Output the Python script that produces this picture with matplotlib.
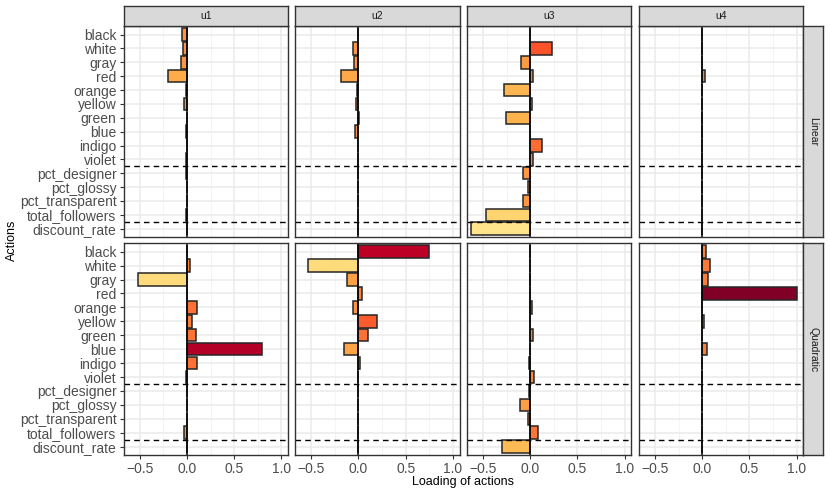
import matplotlib
matplotlib.use("Agg")
import matplotlib.pyplot as plt
import numpy as np
from matplotlib.colors import Normalize

plt.rcParams['font.family'] = ['Liberation Sans', 'DejaVu Sans']

actions = ["black", "white", "gray", "red", "orange", "yellow", "green", "blue",
           "indigo", "violet", "pct_designer", "pct_glossy", "pct_transparent",
           "total_followers", "discount_rate"]
components = ["u1", "u2", "u3", "u4"]
models = ["Linear", "Quadratic"]

# Linear loadings
lin_u1 = [-0.05, -0.045, -0.067, -0.20, -0.01, -0.035, 0.005, -0.005, 0.005, -0.005,
          -0.005, -0.003, -0.003, -0.01, 0.0]
lin_u2 = [0.0, -0.056, -0.042, -0.187, -0.018, -0.021, 0.005, -0.032, 0.0, 0.0,
          0.0, -0.005, 0.0, -0.005, 0.0]
lin_u3 = [0.0, 0.23, -0.099, 0.03, -0.278, 0.02, -0.254, -0.005, 0.127, 0.035,
          -0.074, -0.028, -0.077, -0.465, -0.63]
lin_u4 = [0.0, 0.0, 0.0, 0.025, 0.0, 0.0, 0.0, 0.0, 0.0, 0.0,
          0.0, 0.0, 0.0, 0.0, 0.0]
# Quadratic loadings
quad_u1 = [0.005, 0.028, -0.523, 0.0, 0.102, 0.057, 0.099, 0.795, 0.106, -0.014,
           0.0, -0.003, 0.0, -0.028, 0.0]
quad_u2 = [0.745, -0.535, -0.126, 0.035, -0.059, 0.2, 0.105, -0.15, 0.014, -0.005,
           0.0, 0.0, 0.0, -0.005, 0.0]
quad_u3 = [-0.005, 0.0, 0.0, 0.0, 0.02, 0.0, 0.025, 0.0, -0.01, 0.038,
           -0.014, -0.108, -0.021, 0.087, -0.297]
quad_u4 = [0.042, 0.083, 0.065, 1.0, 0.0, 0.02, 0.0, 0.05, 0.0, 0.0,
           0.0, 0.0, 0.0, 0.0, 0.0]

data = {
    "Linear": [lin_u1, lin_u2, lin_u3, lin_u4],
    "Quadratic": [quad_u1, quad_u2, quad_u3, quad_u4],
}

xticks = [-0.5, 0.0, 0.5, 1.0]
xtick_labels = ["\u22120.5", "0.0", "0.5", "1.0"]
minor_x = [-0.25, 0.25, 0.75]
sep_lines = [9.5, 13.5]

W, H = 830, 498
fig = plt.figure(figsize=(W / 100, H / 100), dpi=100)

col_left = [123.5, 295.0, 466.7, 638.8]
col_w = 164.5
row_top = [26.3, 243.3]
row_h = [210.7, 211.7]
cmap = plt.cm.YlOrRd
norm = Normalize(-1, 1)
border_col = "#262626"

def px_axes(x0, y0, w, h):
    return fig.add_axes([x0 / W, 1 - (y0 + h) / H, w / W, h / H])

y = np.arange(len(actions))
for r, model in enumerate(models):
    for c, comp in enumerate(components):
        ax = px_axes(col_left[c], row_top[r], col_w, row_h[r])
        vals = np.array(data[model][c])
        ax.set_xlim(-0.672, 1.07)
        ax.set_ylim(len(actions) - 1 + 0.6, -0.6)
        for xv in minor_x:
            ax.axvline(xv, color="#F2F2F2", lw=0.6, zorder=0)
        for xv in xticks:
            ax.axvline(xv, color="#EBEBEB", lw=1.1, zorder=0)
        for yv in y:
            ax.axhline(yv, color="#EBEBEB", lw=1.1, zorder=0)
        ax.barh(y, vals, height=0.9, color=cmap(norm(vals)), edgecolor=border_col,
                linewidth=1.1, zorder=2)
        ax.axvline(0, color="black", lw=1.1, zorder=3)
        for yv in sep_lines:
            ax.axhline(yv, color="black", lw=1.0, ls=(0, (4, 3)), zorder=3)
        for s in ax.spines.values():
            s.set_color("#333333")
            s.set_linewidth(1.0)
            s.set_zorder(5)
        ax.set_yticks(y)
        ax.set_xticks(xticks)
        ax.tick_params(axis="both", color="#333333", length=3, width=0.8,
                       labelsize=10, labelcolor="#4D4D4D", pad=2)
        if c == 0:
            ax.set_yticklabels(actions)
        else:
            ax.tick_params(axis="y", length=0, labelleft=False)
        if r == 1:
            ax.set_xticklabels(xtick_labels)
        else:
            ax.tick_params(axis="x", length=0, labelbottom=False)
        # top strip
        if r == 0:
            sax = px_axes(col_left[c], 6.0, col_w, 20.3)
            sax.set_facecolor("#D9D9D9")
            sax.set_xticks([]); sax.set_yticks([])
            for s in sax.spines.values():
                s.set_color("#333333"); s.set_linewidth(1.0)
            sax.text(0.5, 0.5, comp, ha="center", va="center", fontsize=7.5,
                     color="#1A1A1A", transform=sax.transAxes)
        if c == 3:
            sax = px_axes(803.3, row_top[r], 20.0, row_h[r])
            sax.set_facecolor("#D9D9D9")
            sax.set_xticks([]); sax.set_yticks([])
            for s in sax.spines.values():
                s.set_color("#333333"); s.set_linewidth(1.0)
            sax.text(0.5, 0.5, model, ha="center", va="center", fontsize=7.5,
                     color="#1A1A1A", rotation=-90, transform=sax.transAxes)

fig.text(463.4 / W, 1 - 481.5 / H, "Loading of actions", ha="center", va="center",
         fontsize=9, color="black")
fig.text(11.5 / W, 1 - 240.8 / H, "Actions", ha="center", va="center",
         fontsize=9, color="black", rotation=90)

fig.savefig("out.png", dpi=100, facecolor="white")
